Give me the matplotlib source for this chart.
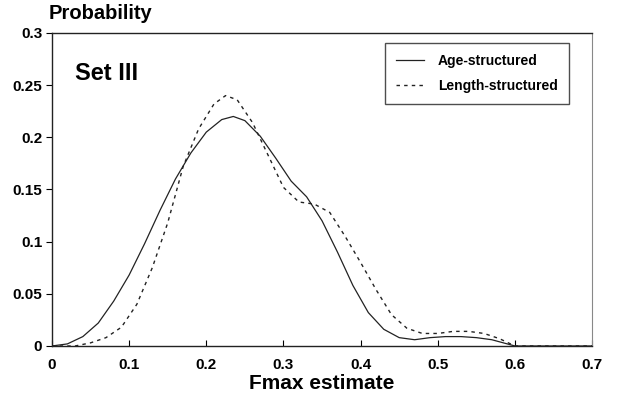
#
# Fmax estimate probability curves, Set III
#

import matplotlib
matplotlib.use("Agg")
from matplotlib import pyplot as plt

plt.rcParams['font.family'] = ['Liberation Sans', 'DejaVu Sans']
plt.rcParams['font.weight'] = 'bold'

# Age-structured (solid)
age_x = [0, 0.02, 0.04, 0.06, 0.08, 0.10, 0.12, 0.14, 0.16, 0.18, 0.20, 0.22,
         0.235, 0.25, 0.27, 0.29, 0.31, 0.33, 0.35, 0.37, 0.39, 0.41, 0.43,
         0.45, 0.47, 0.49, 0.51, 0.53, 0.55, 0.57, 0.60, 0.70]
age_p = [0, 0.002, 0.009, 0.022, 0.043, 0.068, 0.098, 0.130, 0.160, 0.185,
         0.205, 0.217, 0.220, 0.216, 0.201, 0.180, 0.158, 0.143, 0.120, 0.090,
         0.058, 0.032, 0.016, 0.008, 0.006, 0.008, 0.009, 0.009, 0.008, 0.006,
         0.0, 0.0]

# Length-structured (dashed)
len_x = [0, 0.03, 0.05, 0.07, 0.09, 0.11, 0.13, 0.15, 0.17, 0.19, 0.21, 0.225,
         0.24, 0.26, 0.28, 0.30, 0.32, 0.34, 0.36, 0.38, 0.40, 0.42, 0.44,
         0.46, 0.48, 0.50, 0.52, 0.54, 0.56, 0.58, 0.60, 0.70]
len_p = [0, 0.0, 0.003, 0.008, 0.018, 0.040, 0.075, 0.118, 0.172, 0.208,
         0.232, 0.240, 0.236, 0.214, 0.183, 0.152, 0.138, 0.136, 0.128, 0.105,
         0.080, 0.054, 0.030, 0.017, 0.012, 0.012, 0.014, 0.014, 0.012, 0.007,
         0.0, 0.0]

xticks = [0, 0.1, 0.2, 0.3, 0.4, 0.5, 0.6, 0.7]
xtick_labels = ['0', '0.1', '0.2', '0.3', '0.4', '0.5', '0.6', '0.7']
yticks = [0, 0.05, 0.1, 0.15, 0.2, 0.25, 0.3]
ytick_labels = ['0', '0.05', '0.1', '0.15', '0.2', '0.25', '0.3']

fig = plt.figure(figsize=(6.18, 3.97), dpi=100)
ax = fig.add_axes([0.0841, 0.1285, 0.8740, 0.7884])

ax.plot(age_x, age_p, color='#222222', lw=0.9, label='Age-structured')
ax.plot(len_x, len_p, color='#222222', lw=1.0, linestyle=(0, (2.5, 3)),
        label='Length-structured')

ax.set_xlim(0, 0.7)
ax.set_ylim(0, 0.3)
ax.set_xticks(xticks)
ax.set_xticklabels(xtick_labels, fontsize=11, fontweight='bold')
ax.set_yticks(yticks)
ax.set_yticklabels(ytick_labels, fontsize=11, fontweight='bold')
ax.tick_params(axis='x', direction='in', length=4, width=0.8, pad=9)
ax.tick_params(axis='y', direction='out', length=4, width=0.8, pad=3)
for s in ['left', 'bottom', 'top']:
    ax.spines[s].set_linewidth(1.0)
    ax.spines[s].set_color('#222222')
ax.spines['right'].set_color('#888888')

ax.set_xlabel('Fmax estimate', fontsize=15, fontweight='bold', labelpad=1)
fig.text(0.079, 0.942, 'Probability', fontsize=14.5, fontweight='bold',
         ha='left', va='bottom')
ax.text(0.042, 0.87, 'Set III', transform=ax.transAxes, fontsize=17,
        fontweight='bold', ha='left', va='center')

leg = ax.legend(loc='upper right', bbox_to_anchor=(0.957, 0.968),
                fontsize=10, frameon=True, fancybox=False, handlelength=2.0,
                borderpad=0.8, labelspacing=0.75, handletextpad=1.0,
                borderaxespad=0)
leg.get_frame().set_edgecolor('#222222')
leg.get_frame().set_linewidth(1.0)
for t in leg.get_texts():
    t.set_fontweight('bold')

plt.savefig('out.png', dpi=100)
